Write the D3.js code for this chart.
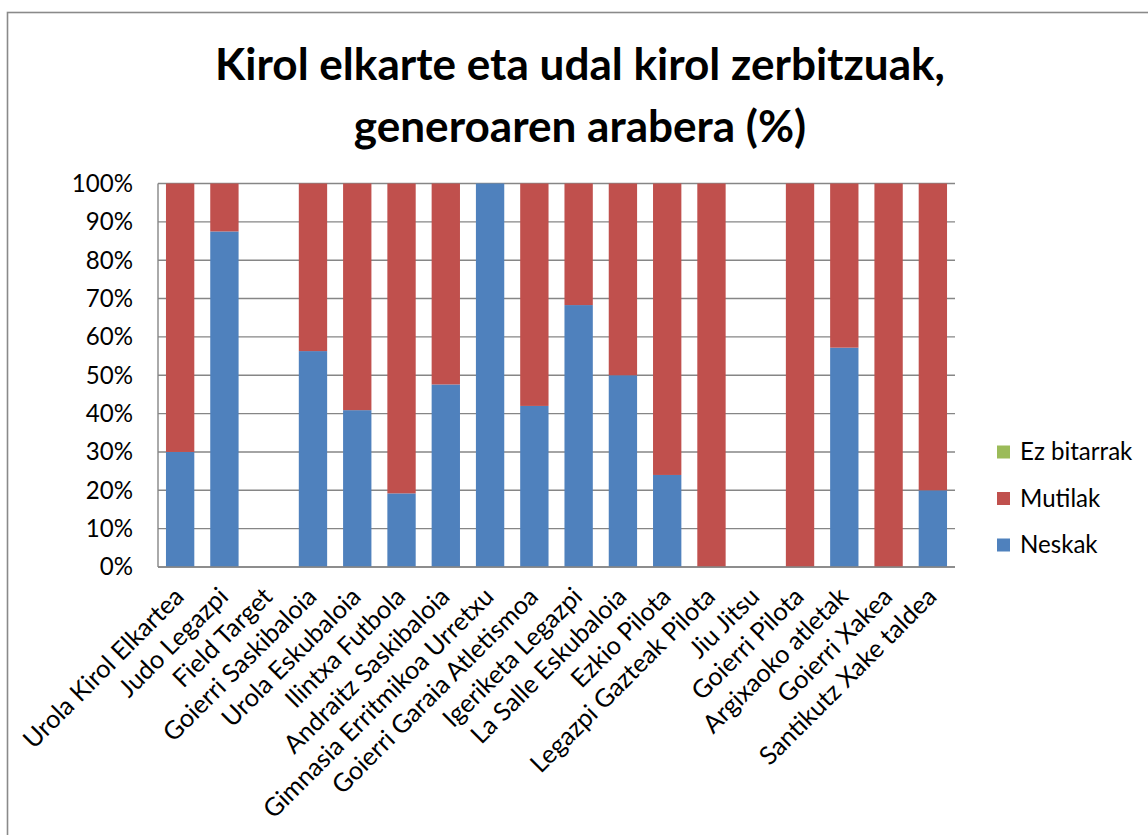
<!DOCTYPE html>
<html>
<head>
<meta charset="utf-8">
<script src="https://cdn.jsdelivr.net/npm/d3@7"></script>
<style>
  html, body { margin: 0; padding: 0; background: #fff; }
  svg { display: block; }
  text { font-family: Lato, "Open Sans", "Noto Sans", sans-serif; fill: #000; }
</style>
</head>
<body>
<svg id="chart" width="1148" height="835"></svg>
<script>
const titleLines = ["Kirol elkarte eta udal kirol zerbitzuak,", "generoaren arabera (%)"];
const categories = [
  "Urola Kirol Elkartea", "Judo Legazpi", "Field Target", "Goierri Saskibaloia",
  "Urola Eskubaloia", "Ilintxa Futbola", "Andraitz Saskibaloia", "Gimnasia Erritmikoa Urretxu",
  "Goierri Garaia Atletismoa", "Igeriketa Legazpi", "La Salle Eskubaloia", "Ezkio Pilota",
  "Legazpi Gazteak Pilota", "Jiu Jitsu", "Goierri Pilota", "Argixaoko atletak",
  "Goierri Xakea", "Santikutz Xake taldea"
];
const neskak     = [30, 87.5, 0, 56.3, 40.9, 19.2, 47.6, 100, 42, 68.3, 50, 24, 0, 0, 0, 57.2, 0, 20];
const mutilak    = [70, 12.5, 0, 43.7, 59.1, 80.8, 52.4, 0, 58, 31.7, 50, 76, 100, 0, 100, 42.8, 100, 80];
const ezBitarrak = [0, 0, 0, 0, 0, 0, 0, 0, 0, 0, 0, 0, 0, 0, 0, 0, 0, 0];
const seriesNames = ["Neskak", "Mutilak", "Ez bitarrak"];
const seriesColors = ["#4F81BD", "#C0504D", "#9BBB59"];
const yTicks = [0, 0.1, 0.2, 0.3, 0.4, 0.5, 0.6, 0.7, 0.8, 0.9, 1.0];

const svg = d3.select("#chart");

// outer frame
svg.append("rect").attr("x", 7.5).attr("y", 12.5).attr("width", 1300).attr("height", 1000)
  .attr("fill", "none").attr("stroke", "#8a8a8a").attr("stroke-width", 1.6);

// font size calibration (target widths)
function measure(str, size, weight) {
  const t = svg.append("text").attr("font-size", size).attr("font-weight", weight || "normal").text(str);
  const w = t.node().getComputedTextLength();
  t.remove();
  return w;
}
const baseFs = 26 * (81 + 77) / (measure("Mutilak", 26) + measure("Neskak", 26));
const catFs = baseFs * 1.05;
const titleFs = 44 * 730 / measure(titleLines[0], 44, "bold");

// title
svg.append("g").selectAll("text").data(titleLines).join("text")
  .attr("x", 580).attr("y", (d, i) => 80 + i * 62)
  .attr("text-anchor", "middle").attr("font-weight", "bold").attr("font-size", titleFs)
  .text(d => d);

// data table
const rows = categories.map((c, i) => ({ cat: c, "Neskak": neskak[i] / 100, "Mutilak": mutilak[i] / 100, "Ez bitarrak": ezBitarrak[i] / 100 }));
const stacked = d3.stack().keys(seriesNames)(rows);

const x = d3.scaleBand().domain(categories).range([158, 955]).paddingInner(0.36).paddingOuter(0.18);
const y = d3.scaleLinear().domain([0, 1]).range([567, 183.5]);

// gridlines
svg.append("g").selectAll("line").data(yTicks).join("line")
  .attr("x1", 158).attr("x2", 955)
  .attr("y1", d => y(d)).attr("y2", d => y(d))
  .attr("stroke", "#868686").attr("stroke-width", 1.4);

// bars
const layer = svg.append("g").selectAll("g").data(stacked).join("g")
  .attr("fill", (d, i) => seriesColors[i]);
layer.selectAll("rect").data(d => d.map(v => ({ v, cat: v.data.cat }))).join("rect")
  .attr("x", d => x(d.cat))
  .attr("width", x.bandwidth())
  .attr("y", d => y(d.v[1]))
  .attr("height", d => Math.max(0, y(d.v[0]) - y(d.v[1])));

// axes lines
svg.append("line").attr("x1", 158).attr("x2", 158).attr("y1", y(1)).attr("y2", y(0))
  .attr("stroke", "#868686").attr("stroke-width", 1.4);
svg.append("line").attr("x1", 158).attr("x2", 955).attr("y1", y(0)).attr("y2", y(0))
  .attr("stroke", "#868686").attr("stroke-width", 1.6);

// y tick labels
svg.append("g").selectAll("text").data(yTicks).join("text")
  .attr("x", 133).attr("y", d => y(d)).attr("dy", "0.35em")
  .attr("text-anchor", "end").attr("font-size", baseFs)
  .text(d => d3.format(".0%")(d));

// x labels
svg.append("g").selectAll("text").data(categories).join("text")
  .attr("text-anchor", "end").attr("font-size", catFs).attr("dy", "0.35em")
  .attr("transform", d => `translate(${x(d) + x.bandwidth() / 2 - 1},${592}) rotate(-45)`)
  .text(d => d);

// legend
const legendOrder = [2, 1, 0];
const lg = svg.append("g").selectAll("g").data(legendOrder).join("g")
  .attr("transform", (d, i) => `translate(997,${452 + i * 46.5})`);
lg.append("rect").attr("x", 0).attr("y", -6.5).attr("width", 13).attr("height", 13)
  .attr("fill", d => seriesColors[d]);
lg.append("text").attr("x", 23).attr("y", 0).attr("dy", "0.35em")
  .attr("font-size", baseFs).text(d => seriesNames[d]);
</script>
</body>
</html>
